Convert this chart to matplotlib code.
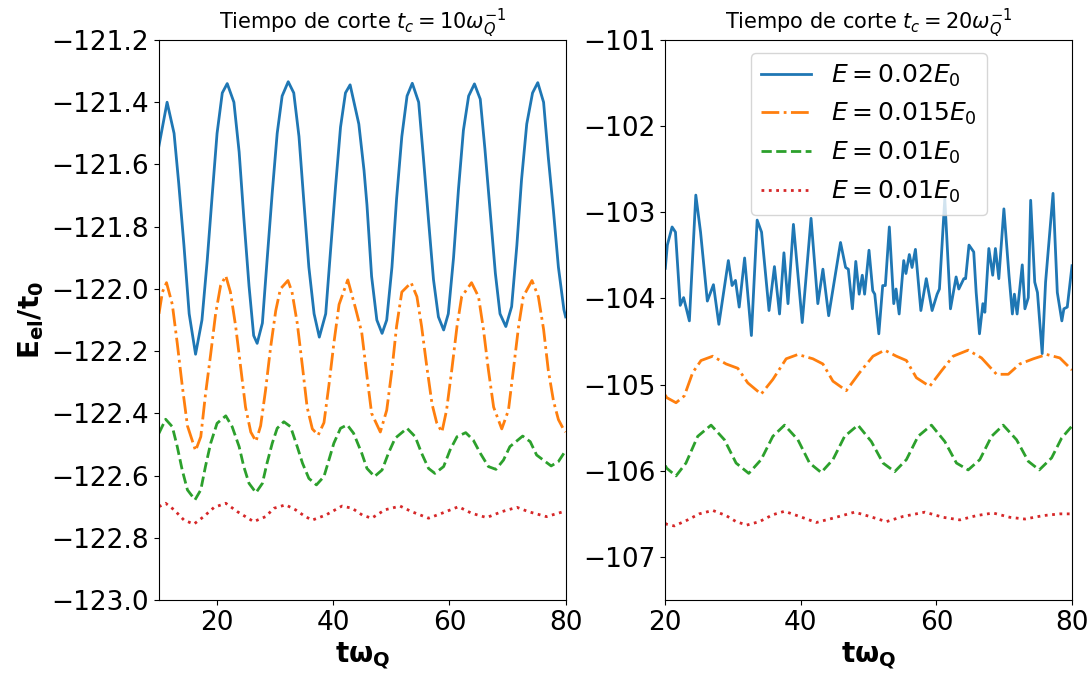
import matplotlib
matplotlib.use("Agg")
import matplotlib.pyplot as plt

# ---------------- Data ----------------
# Left panel: t_c = 10
t_blue_L = [10.0, 11.4, 12.6, 13.4, 14.3, 15.2, 16.3, 17.4, 18.3, 19.2, 20.0, 20.9, 21.75,
            22.9, 23.8, 24.6, 25.5, 26.3, 26.9, 27.8, 28.6, 29.5, 30.35, 31.2, 32.25,
            33.2, 34.1, 34.9, 35.8, 36.7, 37.6, 38.7, 39.5, 40.4, 41.25, 42.1, 42.9,
            44.4, 45.3, 45.8, 46.6, 47.5, 48.4, 49.2, 50.1, 50.9, 51.8, 52.7, 53.6,
            54.7, 55.5, 56.4, 57.25, 58.1, 59.0, 59.8, 60.7, 61.55, 62.4, 63.3, 64.3,
            65.3, 66.1, 67.0, 67.9, 68.7, 69.7, 70.7, 71.6, 72.4, 73.3, 74.3, 75.2,
            76.2, 77.0, 77.9, 78.75, 79.7, 80.0]
v_blue_L = [-121.54, -121.40, -121.50, -121.66, -121.86, -122.08, -122.21, -122.10, -121.91,
            -121.69, -121.50, -121.37, -121.34,
            -121.40, -121.56, -121.77, -121.99, -122.15, -122.175, -122.11, -121.91, -121.69,
            -121.50, -121.38, -121.334,
            -121.37, -121.51, -121.71, -121.93, -122.08, -122.155, -122.08, -121.885, -121.67,
            -121.48, -121.37, -121.344,
            -121.47, -121.62, -121.73, -121.96, -122.10, -122.143, -122.10, -121.93, -121.71,
            -121.51, -121.38, -121.339,
            -121.40, -121.575, -121.78, -121.97, -122.09, -122.132, -122.08, -121.90, -121.68,
            -121.49, -121.38, -121.341,
            -121.39, -121.55, -121.75, -121.95, -122.08, -122.121, -122.057, -121.86, -121.65,
            -121.47, -121.37, -121.337,
            -121.40, -121.575, -121.75, -121.93, -122.067, -122.09]

t_orange_L = [10.0, 10.6, 11.3, 12.3, 13.15, 14.0, 14.9, 16.3, 17.2, 18.0, 18.9, 19.75, 20.6,
              21.5, 22.3, 23.2, 24.05, 24.9, 25.8, 26.7, 27.5, 28.35, 29.2, 30.1, 30.9,
              32.2, 32.9, 33.8, 34.7, 35.5, 36.4, 37.4, 38.4, 39.25, 40.1, 41.0, 42.5,
              43.8, 44.9, 45.8, 46.6, 48.1, 49.2, 50.1, 50.9, 51.8, 53.4, 54.4, 55.2,
              56.1, 57.0, 57.8, 58.7, 59.5, 60.4, 61.3, 62.1, 63.8, 65.0, 65.85, 66.7,
              67.6, 69.0, 70.15, 71.0, 71.9, 72.7, 74.2, 75.3, 76.2, 77.0, 77.9, 78.75,
              79.6, 80.0]
v_orange_L = [-122.08, -122.01, -121.98, -122.05, -122.175, -122.31, -122.44, -122.52, -122.475,
              -122.34, -122.21, -122.08, -121.99,
              -121.958, -122.01, -122.12, -122.25, -122.38, -122.46, -122.49, -122.44, -122.325,
              -122.19, -122.07, -122.00,
              -121.973, -122.01, -122.11, -122.25, -122.38, -122.45, -122.47, -122.43, -122.31,
              -122.175, -122.05, -121.971,
              -122.06, -122.14, -122.28, -122.40, -122.46, -122.39, -122.26, -122.12, -122.01,
              -121.98, -122.025, -122.12,
              -122.25, -122.37, -122.43, -122.46, -122.39, -122.26, -122.12, -122.025, -121.98,
              -122.025, -122.13, -122.26,
              -122.38, -122.45, -122.39, -122.26, -122.12, -122.025, -121.973, -122.025, -122.13,
              -122.26, -122.36, -122.42,
              -122.45, -122.46]

t_green_L = [10.0, 11.15, 12.3, 13.15, 14.0, 14.9, 16.2, 17.2, 18.0, 18.9, 20.0, 21.5, 22.6,
             23.8, 24.6, 25.5, 26.7, 27.8, 28.6, 29.5, 30.35, 31.5, 32.65, 33.8, 34.7,
             35.8, 37.1, 38.4, 39.25, 40.1, 41.25, 42.4, 43.5, 44.9, 45.8, 47.1, 48.4,
             49.5, 50.65, 52.7, 54.1, 55.2, 56.4, 57.5, 59.0, 60.1, 61.3, 62.8, 64.1,
             65.3, 66.7, 68.0, 69.3, 70.4, 72.6, 73.9, 75.0, 77.5, 78.75, 79.7, 80.0]
v_green_L = [-122.464, -122.419, -122.443, -122.507, -122.582, -122.646, -122.678, -122.646,
             -122.571, -122.496, -122.432, -122.408, -122.443,
             -122.507, -122.571, -122.625, -122.655, -122.625, -122.56, -122.496, -122.448,
             -122.427, -122.443, -122.507, -122.56,
             -122.609, -122.63, -122.603, -122.55, -122.496, -122.448, -122.437, -122.464,
             -122.528, -122.577, -122.603, -122.582,
             -122.528, -122.48, -122.448, -122.475, -122.528, -122.577, -122.593, -122.571,
             -122.518, -122.475, -122.462, -122.486,
             -122.528, -122.571, -122.58, -122.55, -122.507, -122.473, -122.491, -122.534,
             -122.569, -122.555, -122.528, -122.52]

t_red_L = [10.0, 11.15, 12.6, 14.3, 16.0, 17.7, 19.5, 21.5, 23.5, 26.3, 28.35, 29.8, 31.8,
           33.5, 35.2, 36.4, 38.7, 41.5, 43.25, 45.0, 46.6, 48.9, 51.5, 53.5, 56.4, 58.7,
           61.55, 63.8, 66.4, 69.0, 71.6, 73.6, 76.7, 79.6, 80.0]
v_red_L = [-122.70, -122.689, -122.71, -122.743, -122.756, -122.732, -122.702, -122.689,
           -122.716, -122.748, -122.732, -122.705, -122.694,
           -122.71, -122.732, -122.743, -122.727, -122.698, -122.705, -122.727, -122.737,
           -122.71, -122.698, -122.716, -122.737, -122.721,
           -122.70, -122.721, -122.735, -122.716, -122.702, -122.716, -122.732, -122.716,
           -122.714]

# Right panel: t_c = 20
t_blue_R = [20.0, 20.3, 21.0, 21.5, 22.2, 22.7, 23.55, 24.5, 25.2, 26.2, 27.1, 27.9, 29.3,
            29.85, 30.35, 30.9, 31.7, 32.7, 33.55, 34.2, 35.3, 36.1, 36.85, 37.5, 38.1,
            38.9, 40.2, 41.5, 42.5, 43.25, 44.1, 45.85, 46.6, 47.0, 47.6, 48.1, 48.6,
            49.06, 49.4, 50.05, 50.6, 50.9, 51.5, 52.07, 52.46, 53.05, 53.7, 54.04, 54.5,
            55.17, 55.5, 56.0, 56.4, 56.9, 57.7, 58.5, 59.36, 60.1, 60.44, 61.23, 62.07,
            62.9, 63.3, 64.04, 64.3, 64.8, 65.5, 65.86, 66.35, 66.85, 67.14, 67.73, 68.3,
            68.7, 69.2, 69.95, 70.7, 71.2, 71.5, 71.9, 72.66, 73.05, 73.55, 73.9, 74.5,
            74.9, 75.6, 76.1, 77.2, 77.83, 78.5, 78.8, 79.3, 80.0]
v_blue_R = [-103.65, -103.38, -103.17, -103.23, -104.08, -103.99, -104.26, -102.80, -103.23,
            -104.03, -103.84, -104.30, -103.56,
            -103.85, -103.79, -104.10, -103.53, -104.43, -103.09, -103.23, -104.14, -103.63,
            -104.18, -103.47, -104.06,
            -103.14, -104.28, -103.07, -104.06, -103.66, -104.20, -103.35, -103.64, -103.66,
            -104.12, -103.57, -103.95,
            -103.73, -103.95, -103.44, -103.91, -103.95, -104.41, -103.85, -103.85, -103.17,
            -104.06, -103.89, -104.18,
            -103.56, -103.71, -103.49, -103.64, -103.43, -104.14, -103.77, -104.14, -103.95,
            -103.89, -102.84, -104.12,
            -103.75, -103.89, -103.77, -103.77, -103.38, -103.46, -103.93, -104.41, -104.06,
            -104.16, -103.42, -103.73,
            -103.42, -103.77, -102.96, -103.73, -104.18, -103.95, -104.18, -103.61, -104.12,
            -103.99, -102.86, -103.81,
            -103.93, -104.64, -103.81, -102.78, -103.93, -104.26, -104.12, -104.10, -103.62]

t_orange_R = [20.0, 20.2, 21.58, 22.81, 24.04, 25.27, 26.99, 28.97, 30.69, 32.17, 34.14, 35.86,
              37.83, 39.56, 41.77, 43.25, 44.73, 46.7, 48.67, 50.64, 52.36, 54.09, 55.57,
              57.04, 59.0, 60.74, 62.46, 64.68, 66.65, 68.87, 70.59, 72.3, 74.3, 76.26,
              78.2, 80.0]
v_orange_R = [-105.12, -105.15, -105.21, -105.13, -104.86, -104.72, -104.67, -104.76, -104.81,
              -104.98, -105.11, -104.94,
              -104.70, -104.65, -104.70, -104.76, -104.96, -105.07, -104.86, -104.67, -104.60,
              -104.67, -104.72,
              -104.92, -105.02, -104.84, -104.67, -104.60, -104.69, -104.88, -104.88, -104.76,
              -104.70, -104.65,
              -104.69, -104.83]

t_green_R = [20.0, 20.2, 21.58, 23.05, 24.78, 26.75, 28.72, 30.44, 32.31, 34.14, 35.86, 37.59,
             39.56, 41.28, 43.0, 44.73, 46.45, 48.42, 50.39, 52.12, 53.84, 55.57, 57.29,
             59.26, 61.23, 62.95, 64.68, 66.4, 68.13, 69.85, 71.82, 73.55, 75.17, 76.99,
             78.47, 80.0]
v_green_R = [-105.94, -105.97, -106.06, -105.91, -105.60, -105.47, -105.64, -105.91, -106.03,
             -105.87, -105.60, -105.47,
             -105.64, -105.91, -106.02, -105.87, -105.60, -105.47, -105.66, -105.91, -106.01,
             -105.87, -105.60,
             -105.47, -105.66, -105.91, -105.99, -105.87, -105.60, -105.47, -105.64, -105.89,
             -105.99, -105.85,
             -105.62, -105.48]

t_red_R = [20.0, 20.2, 21.33, 23.3, 25.0, 27.0, 28.97, 30.44, 32.02, 33.89, 35.86, 37.59, 39.8,
           42.27, 44.73, 47.93, 50.15, 52.61, 55.07, 58.3, 60.99, 63.45, 65.91, 68.37, 70.84,
           73.05, 75.76, 78.2, 80.0]
v_red_R = [-106.61, -106.62, -106.64, -106.57, -106.50, -106.46, -106.52, -106.59, -106.63,
           -106.59, -106.51, -106.47, -106.53,
           -106.60, -106.55, -106.48, -106.53, -106.59, -106.53, -106.48, -106.54, -106.57,
           -106.52, -106.49, -106.54,
           -106.56, -106.52, -106.50, -106.50]

labels = [r'$E=0.02E_0$', r'$E=0.015E_0$', r'$E=0.01E_0$', r'$E=0.01E_0$']
titles = [r'Tiempo de corte $t_c=10\omega_Q^{-1}$', r'Tiempo de corte $t_c=20\omega_Q^{-1}$']
cut_times = [10, 20]

# ---------------- Plot ----------------
fig, (ax1, ax2) = plt.subplots(1, 2, figsize=(10.91, 6.77), dpi=100)
fig.subplots_adjust(left=0.1457, right=0.9826, top=0.9409, bottom=0.1137, wspace=0.245)

styles = [dict(color='#1f77b4', ls='-'), dict(color='#ff7f0e', ls='-.'),
          dict(color='#2ca02c', ls='--'), dict(color='#d62728', ls=':')]

left_data = [(t_blue_L, v_blue_L), (t_orange_L, v_orange_L), (t_green_L, v_green_L), (t_red_L, v_red_L)]
right_data = [(t_blue_R, v_blue_R), (t_orange_R, v_orange_R), (t_green_R, v_green_R), (t_red_R, v_red_R)]

for ax, data, title, tc in [(ax1, left_data, titles[0], cut_times[0]),
                            (ax2, right_data, titles[1], cut_times[1])]:
    ax.axvline(tc, color='k', ls='-.', lw=1.2)
    for (t, v), st, lab in zip(data, styles, labels):
        ax.plot(t, v, lw=2, label=lab, **st)
    ax.set_title(title, fontsize=15)
    ax.set_xlabel(r'$\mathbf{t\omega_Q}$', fontsize=20)
    ax.tick_params(labelsize=19)

ax1.set_xlim(10, 80)
ax1.set_ylim(-123.0, -121.2)
ax1.set_xticks([20, 40, 60, 80])
ax1.set_ylabel(r'$\mathbf{E_{el}/t_0}$', fontsize=20)

ax2.set_xlim(20, 80)
ax2.set_ylim(-107.5, -101)
ax2.set_xticks([20, 40, 60, 80])
ax2.set_yticks([-107, -106, -105, -104, -103, -102, -101])
ax2.legend(loc='upper center', fontsize=18)

fig.savefig('out.png', dpi=100)
